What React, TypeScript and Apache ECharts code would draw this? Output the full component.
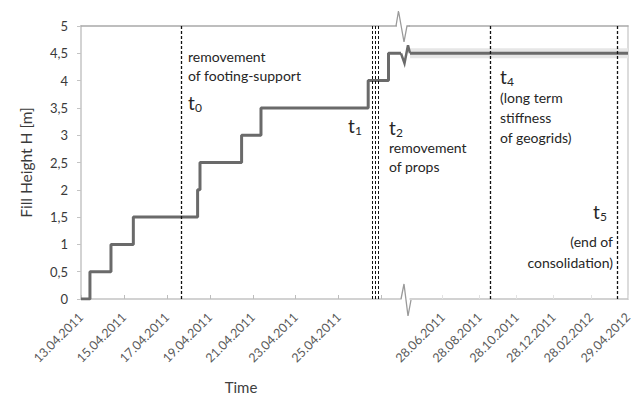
import React, { useEffect, useRef } from 'react';
import * as echarts from 'echarts';

const FONT = 'Lato, "Open Sans", sans-serif';

// Fill height history, first (short) period: time of change -> new height
const stepTimes = [
  '2011-04-13 00:00', '2011-04-13 10:00', '2011-04-14 09:30', '2011-04-15 10:30',
  '2011-04-18 10:20', '2011-04-18 13:00', '2011-04-20 11:30', '2011-04-21 09:10',
  '2011-04-26 09:00', '2011-04-27 07:40', '2011-04-27 21:40',
];
const stepHeights = [0, 0.5, 1, 1.5, 2, 2.5, 3, 3.5, 4, 4.5, 4.5];

// second (long) period after the axis break
const lateTimes = ['2011-05-05 00:00', '2012-04-29 00:00'];
const lateHeights = [4.5, 4.5];

// axis ticks / labels
const earlyTickDates = ['2011-04-13', '2011-04-15', '2011-04-17', '2011-04-19', '2011-04-21', '2011-04-23', '2011-04-25', '2011-04-27'];
const earlyLabelDates = ['2011-04-13', '2011-04-15', '2011-04-17', '2011-04-19', '2011-04-21', '2011-04-23', '2011-04-25'];
const lateTickDates = ['2011-06-28', '2011-08-28', '2011-10-28', '2011-12-28', '2012-02-28', '2012-04-29'];

// event lines: t0, then the close group t1 / t2, then t4, t5
const t0Event = ['2011-04-17 15:50'];
const t12Events = ['2011-04-26 13:48', '2011-04-26 17:10', '2011-04-26 20:31'];
const lateEvents = ['2011-09-15 00:00', '2012-04-12 00:00'];

const ts = (s: string): number => {
  const [d, t = '00:00'] = s.split(' ');
  const [y, m, dd] = d.split('-').map(Number);
  const [h, mi] = t.split(':').map(Number);
  return new Date(y, m - 1, dd, h, mi).getTime();
};
const pad = (n: number) => (n < 10 ? '0' : '') + n;
const fmtDate = (v: number) => {
  const d = new Date(v);
  return pad(d.getDate()) + '.' + pad(d.getMonth() + 1) + '.' + d.getFullYear();
};

const G1 = { left: 81, top: 26, width: 320, height: 273, outerBoundsMode: 'none', containLabel: false };
const G2 = { left: 410, top: 26, width: 218, height: 273, outerBoundsMode: 'none', containLabel: false };

const AXIS = '#c4c4c4';
const LINE = '#6a6a6a';
const TXT = '#262626';

export default function App() {
  const ref = useRef<HTMLDivElement>(null);
  useEffect(() => {
    if (!ref.current) return;
    const chart = echarts.init(ref.current, null, { renderer: 'svg' });

    const xLabel = {
      rotate: 45,
      formatter: (v: number) => fmtDate(v),
      fontSize: 12.5,
      color: '#595959',
      fontFamily: FONT,
      margin: 16,
      hideOverlap: false,
    };

    const dash = (w: number) => ({ type: [3, 2], color: '#111', width: w });
    const markLine = (data: any[]) => ({
      silent: true,
      symbol: ['none', 'none'],
      label: { show: false },
      lineStyle: dash(1.3),
      data,
    });

    const hiddenTop = (grid: number, min: number, max: number) => ({
      gridIndex: grid, type: 'value', position: 'top', min, max,
      axisLine: { show: true, onZero: false, lineStyle: { color: '#a9a9a9', width: 1.5 } },
      axisTick: { show: false }, axisLabel: { show: false }, splitLine: { show: false },
    });

    const e0 = ts(stepTimes[0]);
    const e1 = ts(stepTimes[stepTimes.length - 1]);
    const l0 = ts(lateTimes[0]);
    const l1 = ts(lateTimes[1]);

    chart.setOption({
      animation: false,
      backgroundColor: '#fff',
      grid: [G1, G2],
      xAxis: [
        {
          gridIndex: 0, type: 'value', position: 'bottom', min: e0, max: e1,
          axisLine: { show: true, onZero: false, lineStyle: { color: AXIS, width: 1.5 } },
          axisTick: { show: true, inside: true, length: 4, customValues: earlyTickDates.map(ts), lineStyle: { color: '#bdbdbd' } },
          axisLabel: { ...xLabel, customValues: earlyLabelDates.map(ts) },
          splitLine: { show: false },
          name: 'Time', nameLocation: 'middle', nameGap: 80,
          nameTextStyle: { fontSize: 15, color: '#404040', fontFamily: FONT },
        },
        hiddenTop(0, e0, e1),
        {
          gridIndex: 1, type: 'value', position: 'bottom', min: l0, max: l1,
          axisLine: { show: true, onZero: false, lineStyle: { color: AXIS, width: 1.5 } },
          axisTick: { show: true, inside: true, length: 4, customValues: lateTickDates.map(ts), lineStyle: { color: '#e2e2e2' } },
          axisLabel: { ...xLabel, customValues: lateTickDates.map(ts) },
          splitLine: { show: false },
        },
        hiddenTop(1, l0, l1),
      ],
      yAxis: [
        {
          gridIndex: 0, type: 'value', min: 0, max: 5, interval: 0.5,
          axisLine: { show: true, onZero: false, lineStyle: { color: AXIS, width: 1.5 } },
          axisTick: { show: true, length: 4, lineStyle: { color: AXIS } },
          axisLabel: {
            formatter: (v: number) => String(v).replace('.', ','),
            fontSize: 13, color: '#3a3a3a', fontFamily: FONT, margin: 13,
          },
          splitLine: { show: false },
          name: 'Fill Height H [m]', nameLocation: 'middle', nameGap: 47,
          nameTextStyle: { fontSize: 15.5, color: '#3a3a3a', fontFamily: FONT },
        },
        {
          gridIndex: 1, type: 'value', min: 0, max: 5, position: 'right',
          axisLine: { show: true, onZero: false, lineStyle: { color: '#d0d0d0', width: 1.5 } },
          axisTick: { show: false }, axisLabel: { show: false }, splitLine: { show: false },
        },
      ],
      series: [
        {
          type: 'line', xAxisIndex: 0, yAxisIndex: 0, step: 'end', symbol: 'none',
          lineStyle: { color: LINE, width: 3 },
          data: stepTimes.map((t, i) => [ts(t), stepHeights[i]]),
          markLine: markLine([
            ...t0Event.map((e) => ({ xAxis: ts(e) })),
            ...t12Events.map((e) => ({ xAxis: ts(e), lineStyle: dash(1) })),
          ]),
          z: 3,
        },
        {
          type: 'line', xAxisIndex: 2, yAxisIndex: 1, symbol: 'none',
          lineStyle: { color: '#e6e6e6', width: 10 },
          data: lateTimes.map((t, i) => [ts(t), lateHeights[i]]),
          z: 1,
        },
        {
          type: 'line', xAxisIndex: 2, yAxisIndex: 1, symbol: 'none',
          lineStyle: { color: LINE, width: 3 },
          data: lateTimes.map((t, i) => [ts(t), lateHeights[i]]),
          markLine: markLine(lateEvents.map((e) => ({ xAxis: ts(e) }))),
          z: 3,
        },
      ],
    });

    // axis-break zigzags
    const yTop = G1.top;
    const yBot = G1.top + G1.height;
    const xe = G1.left + G1.width;
    const yl = chart.convertToPixel({ yAxisIndex: 0 }, lateHeights[0]) as number;

    const txt = (text: string, x: number, y: number, size = 14, align = 'left') => ({
      type: 'text', x, y, z: 20,
      style: { text, fontSize: size, lineHeight: size, fontFamily: FONT, fill: TXT, align, verticalAlign: 'middle' },
    });
    const tsub = (sub: string, x: number, y: number) => [
      txt('t', x, y, 19),
      txt(sub, x + 7, y + 5, 12),
    ];

    chart.setOption({
      graphic: [
        { type: 'rect', z: 9, shape: { x: xe - 4, y: yTop - 2, width: 8, height: 4 }, style: { fill: '#fff' } },
        { type: 'polyline', z: 10, shape: { points: [[xe - 5, yTop], [xe - 2.5, yTop - 15], [xe + 3, yTop + 16], [xe + 6, yTop], [G2.left, yTop]] }, style: { stroke: '#9a9a9a', lineWidth: 1.3, fill: 'none' } },
        { type: 'polyline', z: 10, shape: { points: [[xe, yl], [xe + 3.5, yl + 10], [xe + 7, yl - 8], [G2.left, yl]] }, style: { stroke: LINE, lineWidth: 2.5, fill: 'none' } },
        { type: 'polyline', z: 10, shape: { points: [[xe, yBot], [xe + 3, yBot - 15], [xe + 7, yBot + 17], [G2.left + 1, yBot + 1]] }, style: { stroke: '#9a9a9a', lineWidth: 1.3, fill: 'none' } },
        txt('removement', 188, 56),
        txt('of footing-support', 188, 75),
        ...tsub('0', 188, 102),
        ...tsub('1', 348, 125),
        ...tsub('2', 389, 127),
        txt('removement', 389, 147),
        txt('of props', 389, 166),
        ...tsub('4', 500, 76),
        txt('(long term', 500, 97),
        txt('stiffness', 500, 117),
        txt('of geogrids)', 500, 137),
        ...tsub('5', 593, 211),
        txt('(end of', 613, 241, 14, 'right'),
        txt('consolidation)', 613, 262, 14, 'right'),
      ],
    });

    return () => chart.dispose();
  }, []);

  return (
    <div
      ref={ref}
      style={{ position: 'absolute', left: 0, top: 0, width: 633, height: 394, background: '#fff' }}
    />
  );
}
